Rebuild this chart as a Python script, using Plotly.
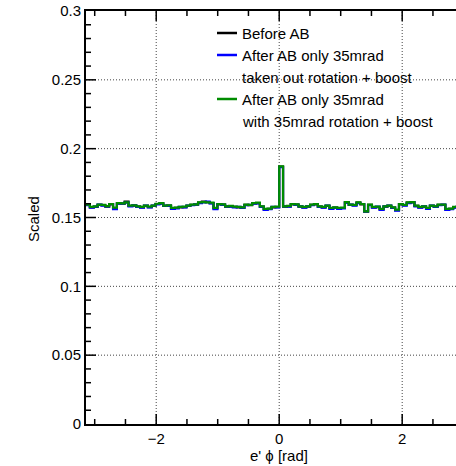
import numpy as np
import plotly.graph_objects as go

# ---------------- data ----------------
n_bins = 100
phi_min, phi_max = -np.pi, np.pi

before_ab = [
    0.1591, 0.1574, 0.1577, 0.1591, 0.1589, 0.1579, 0.1596, 0.1567, 0.1603, 0.1600,
    0.1615, 0.1584, 0.1586, 0.1579, 0.1574, 0.1584, 0.1576, 0.1584, 0.1598, 0.1603,
    0.1584, 0.1586, 0.1567, 0.1570, 0.1574, 0.1576, 0.1584, 0.1591, 0.1593, 0.1608,
    0.1615, 0.1612, 0.1605, 0.1567, 0.1596, 0.1594, 0.1579, 0.1581, 0.1577, 0.1574,
    0.1572, 0.1591, 0.1589, 0.1603, 0.1605, 0.1579, 0.1559, 0.1562, 0.1574, 0.1576,
    0.1869, 0.1579, 0.1581, 0.1596, 0.1594, 0.1579, 0.1574, 0.1579, 0.1591, 0.1596,
    0.1579, 0.1574, 0.1584, 0.1567, 0.1572, 0.1567, 0.1569, 0.1610, 0.1591, 0.1589,
    0.1608, 0.1596, 0.1542, 0.1591, 0.1574, 0.1576, 0.1559, 0.1579, 0.1584, 0.1572,
    0.1554, 0.1596, 0.1589, 0.1608, 0.1610, 0.1584, 0.1574, 0.1579, 0.1567, 0.1584,
    0.1579, 0.1591, 0.1591, 0.1559, 0.1562, 0.1574, 0.1580, 0.1586, 0.1577, 0.1589,
]

after_taken_out = [
    0.1589, 0.1572, 0.1579, 0.1594, 0.1586, 0.1581, 0.1598, 0.1560, 0.1600, 0.1603,
    0.1608, 0.1581, 0.1589, 0.1577, 0.1572, 0.1586, 0.1574, 0.1586, 0.1596, 0.1600,
    0.1586, 0.1584, 0.1562, 0.1567, 0.1577, 0.1574, 0.1586, 0.1589, 0.1596, 0.1605,
    0.1610, 0.1615, 0.1603, 0.1560, 0.1598, 0.1591, 0.1581, 0.1579, 0.1574, 0.1577,
    0.1570, 0.1589, 0.1591, 0.1600, 0.1603, 0.1577, 0.1555, 0.1560, 0.1577, 0.1574,
    0.1866, 0.1581, 0.1579, 0.1598, 0.1591, 0.1581, 0.1572, 0.1581, 0.1589, 0.1598,
    0.1577, 0.1572, 0.1586, 0.1562, 0.1570, 0.1562, 0.1567, 0.1608, 0.1593, 0.1586,
    0.1605, 0.1598, 0.1545, 0.1589, 0.1572, 0.1579, 0.1555, 0.1581, 0.1586, 0.1570,
    0.1550, 0.1598, 0.1586, 0.1605, 0.1612, 0.1581, 0.1572, 0.1581, 0.1562, 0.1586,
    0.1577, 0.1589, 0.1593, 0.1555, 0.1560, 0.1572, 0.1582, 0.1584, 0.1579, 0.1586,
]

after_with_rot = [
    0.1593, 0.1577, 0.1581, 0.1593, 0.1591, 0.1582, 0.1598, 0.1572, 0.1605, 0.1603,
    0.1610, 0.1586, 0.1589, 0.1581, 0.1577, 0.1586, 0.1579, 0.1586, 0.1600, 0.1605,
    0.1586, 0.1589, 0.1570, 0.1572, 0.1577, 0.1579, 0.1586, 0.1593, 0.1596, 0.1610,
    0.1612, 0.1610, 0.1608, 0.1570, 0.1598, 0.1596, 0.1581, 0.1584, 0.1579, 0.1577,
    0.1574, 0.1593, 0.1591, 0.1605, 0.1608, 0.1581, 0.1562, 0.1565, 0.1577, 0.1579,
    0.1872, 0.1581, 0.1584, 0.1598, 0.1596, 0.1581, 0.1577, 0.1581, 0.1593, 0.1598,
    0.1581, 0.1577, 0.1586, 0.1570, 0.1574, 0.1570, 0.1572, 0.1612, 0.1593, 0.1591,
    0.1610, 0.1598, 0.1545, 0.1593, 0.1577, 0.1579, 0.1562, 0.1581, 0.1586, 0.1574,
    0.1557, 0.1598, 0.1591, 0.1610, 0.1612, 0.1586, 0.1577, 0.1581, 0.1570, 0.1586,
    0.1581, 0.1593, 0.1593, 0.1562, 0.1565, 0.1577, 0.1582, 0.1589, 0.1579, 0.1591,
]

series_names = [
    "Before AB",
    "After AB only 35mrad<br>taken out rotation + boost",
    "After AB only 35mrad<br>with 35mrad rotation + boost",
]
series_colors = ["#000000", "#0000ff", "#008c00"]
series_values = [before_ab, after_taken_out, after_with_rot]

x_major_step = 2
x_minor_step = 0.5
y_major_step = 0.05
y_minor_step = 0.01
y_max = 0.3

# ---------------- figure ----------------
edges = np.linspace(phi_min, phi_max, n_bins + 1)

W, H = 456, 466
L, R, T, B = 86, 0, 11, 42
FONT = "Liberation Sans, Arial, Helvetica, sans-serif"

fig = go.Figure()
for name, color, vals in zip(series_names, series_colors, series_values):
    y = list(vals) + [vals[-1]]
    fig.add_trace(go.Scatter(
        x=edges, y=y, mode="lines", line=dict(color=color, width=2.2, shape="hv"),
        name=name, showlegend=False, hoverinfo="skip",
    ))

x_right = phi_min + (W - L - R) * (0 - phi_min) / (279.2 - L)
x_range = [phi_min, x_right]

axis_common = dict(
    showgrid=False, zeroline=False, showline=True, linecolor="black", linewidth=2,
    ticks="", tickfont=dict(family=FONT, size=15, color="black"),
)
fig.update_xaxes(range=x_range, tickmode="linear", tick0=0, dtick=x_major_step,
                 mirror=True, **axis_common)
fig.update_yaxes(range=[0, y_max], tickmode="linear", tick0=0, dtick=y_major_step,
                 mirror=False, **axis_common)

pw, ph = W - L - R, H - T - B
def px(xp):
    return (xp - L) / pw
def py(yp):
    return (H - B - yp) / ph

# tick / grid positions derived from the axis steps
def steps(lo, hi, step):
    k0 = int(np.ceil(lo / step - 1e-9))
    k1 = int(np.floor(hi / step + 1e-9))
    return [round(k * step, 6) for k in range(k0, k1 + 1)]

x_major = [v for v in steps(x_range[0], x_range[1], x_major_step)]
x_minor = [v for v in steps(x_range[0], x_range[1], x_minor_step)
           if abs(v / x_major_step - round(v / x_major_step)) > 1e-6]
y_major = [v for v in steps(0, y_max, y_major_step) if 0 < v < y_max]
y_minor = [v for v in steps(0, y_max, y_minor_step)
           if abs(v / y_major_step - round(v / y_major_step)) > 1e-6]

shapes = []
grid_line = dict(color="#444444", width=1, dash="1px,2px")
for gx in x_major:
    shapes.append(dict(type="line", xref="x", yref="paper", x0=gx, x1=gx, y0=0, y1=1,
                       line=grid_line, layer="below"))
for gy in y_major:
    shapes.append(dict(type="line", xref="paper", yref="y", x0=0, x1=1, y0=gy, y1=gy,
                       line=grid_line, layer="below"))

tick_line = dict(color="black", width=1.5)
for vals, ln in ((x_major, 10), (x_minor, 5)):
    for v in vals:
        shapes.append(dict(type="line", xref="x", yref="paper", x0=v, x1=v,
                           y0=0, y1=ln / ph, line=tick_line))
        shapes.append(dict(type="line", xref="x", yref="paper", x0=v, x1=v,
                           y0=1, y1=1 - ln / ph, line=tick_line))
for vals, ln in ((y_major, 10), (y_minor, 5)):
    for v in vals:
        shapes.append(dict(type="line", xref="paper", yref="y", x0=0, x1=ln / pw,
                           y0=v, y1=v, line=tick_line))

# legend drawn as text + short line samples
legend_rows = [33, 55, 77, 99, 121]
legend_lines = [(0, 33), (1, 55), (2, 99)]
legend_texts = [
    "Before AB",
    "After AB only 35mrad",
    "taken out rotation + boost",
    "After AB only 35mrad",
    "with 35mrad rotation + boost",
]
for idx, yp in legend_lines:
    shapes.append(dict(type="line", xref="paper", yref="paper",
                       x0=px(217), x1=px(237), y0=py(yp), y1=py(yp),
                       line=dict(color=series_colors[idx], width=2.5)))
annotations = []
for txt, yp in zip(legend_texts, legend_rows):
    annotations.append(dict(text=txt, xref="paper", yref="paper", x=px(240), y=py(yp),
                            xanchor="left", yanchor="middle", showarrow=False,
                            font=dict(family=FONT, size=15, color="black")))

annotations.append(dict(text="e' \u03d5 [rad]", xref="x", yref="paper", x=0.0, y=py(456),
                        xanchor="center", yanchor="middle", showarrow=False,
                        font=dict(family=FONT, size=15, color="black")))
annotations.append(dict(text="Scaled", xref="paper", yref="paper", x=px(34), y=py(219),
                        xanchor="center", yanchor="middle", showarrow=False, textangle=-90,
                        font=dict(family=FONT, size=15, color="black")))

fig.update_layout(
    width=W, height=H, margin=dict(l=L, r=R, t=T, b=B, pad=0),
    paper_bgcolor="white", plot_bgcolor="white",
    shapes=shapes, annotations=annotations, showlegend=False,
    font=dict(family=FONT, size=15, color="black"),
)

fig.write_html("out.html")
